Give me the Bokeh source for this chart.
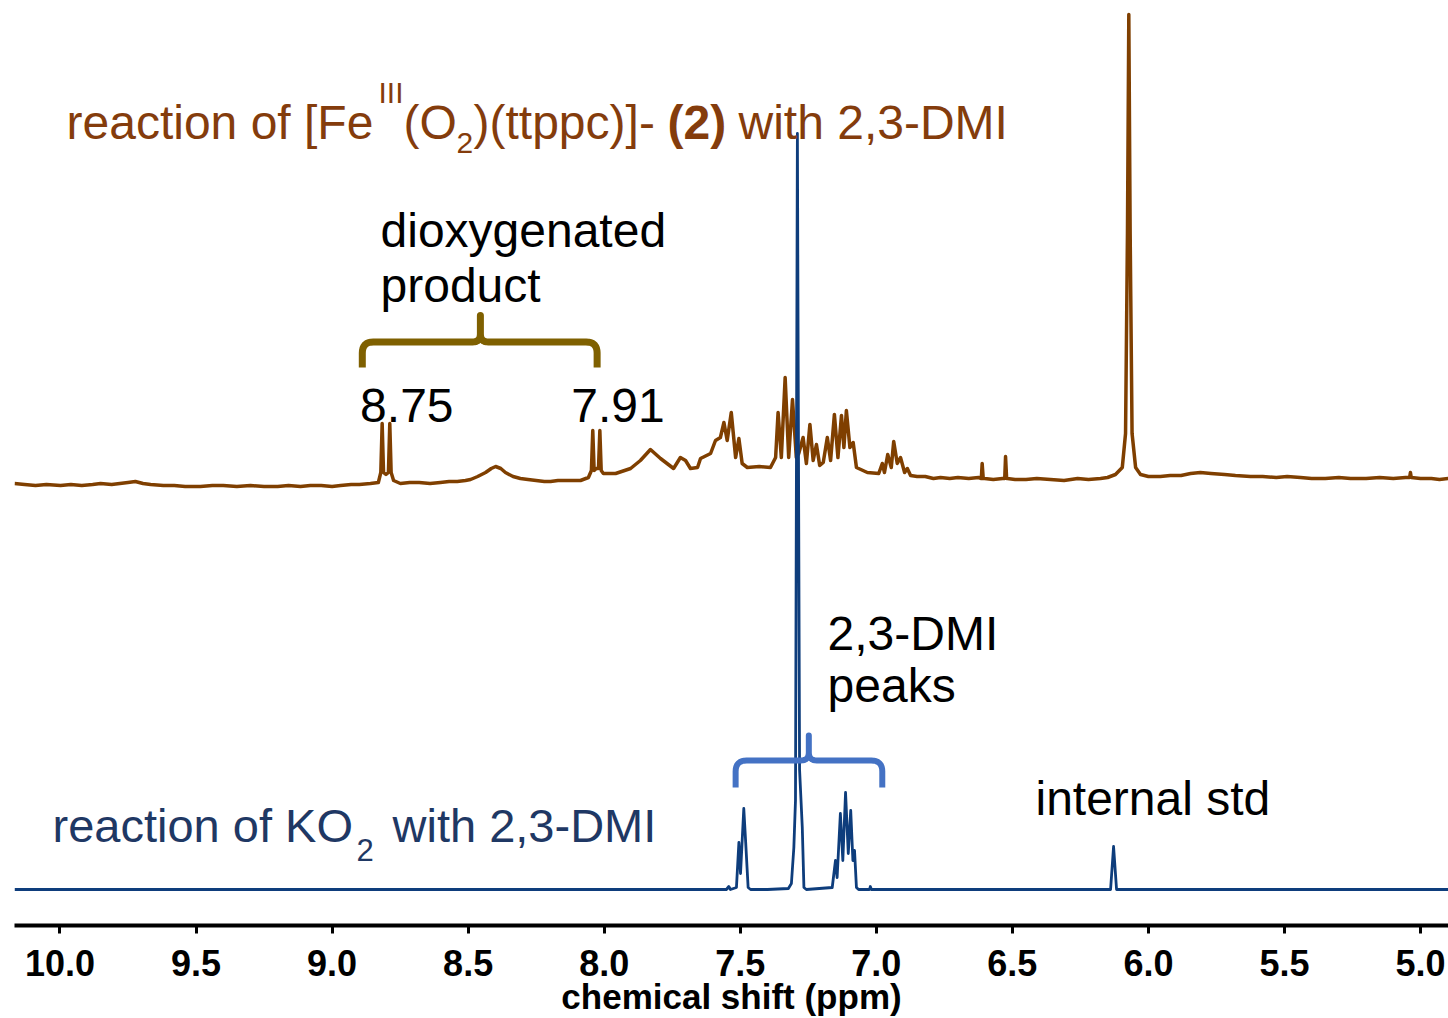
from bokeh.plotting import figure
from bokeh.models import Range1d, FixedTicker, PrintfTickFormatter, Label
from bokeh.embed import file_html
from bokeh.resources import INLINE

# ---------------- data ----------------
# Spectrum of the reaction of [Fe(III)(O2)(ttppc)]- (2) with 2,3-DMI (brown trace)
fe_ppm = [10.167, 10.130, 10.090, 10.050, 9.998, 9.960, 9.920, 9.880, 9.851, 9.810,
          9.780, 9.750, 9.723, 9.695, 9.667, 9.620, 9.580, 9.540, 9.484, 9.440,
          9.400, 9.350, 9.300, 9.250, 9.200, 9.160, 9.116, 9.080, 9.040, 9.000,
          8.969, 8.930, 8.900, 8.859, 8.830, 8.821, 8.816, 8.811, 8.802, 8.793,
          8.788, 8.783, 8.774, 8.749, 8.715, 8.680, 8.640, 8.602, 8.570, 8.540,
          8.510, 8.491, 8.465, 8.436, 8.415, 8.399, 8.380, 8.363, 8.335, 8.308,
          8.280, 8.250, 8.220, 8.197, 8.170, 8.140, 8.110, 8.087, 8.058, 8.047,
          8.042, 8.037, 8.029, 8.021, 8.016, 8.011, 8.003, 7.958, 7.903, 7.867,
          7.830, 7.793, 7.745, 7.720, 7.701, 7.683, 7.657, 7.646, 7.609, 7.591,
          7.573, 7.560, 7.548, 7.533, 7.517, 7.505, 7.493, 7.474, 7.430, 7.389,
          7.370, 7.361, 7.349, 7.335, 7.322, 7.308, 7.294, 7.285, 7.269, 7.257,
          7.244, 7.232, 7.220, 7.208, 7.195, 7.180, 7.168, 7.154, 7.141, 7.128,
          7.119, 7.110, 7.097, 7.085, 7.073, 7.033, 6.991, 6.978, 6.970, 6.958,
          6.945, 6.936, 6.923, 6.911, 6.896, 6.886, 6.874, 6.850, 6.820, 6.790,
          6.764, 6.730, 6.700, 6.660, 6.624, 6.614, 6.611, 6.607, 6.602, 6.570,
          6.536, 6.528, 6.525, 6.521, 6.518, 6.490, 6.450, 6.410, 6.360, 6.310,
          6.260, 6.220, 6.176, 6.150, 6.121, 6.096, 6.084, 6.077, 6.072, 6.067,
          6.060, 6.047, 6.029, 6.000, 5.956, 5.920, 5.880, 5.845, 5.809, 5.770,
          5.720, 5.680, 5.625, 5.580, 5.530, 5.490, 5.441, 5.400, 5.350, 5.300,
          5.257, 5.200, 5.150, 5.100, 5.055, 5.040, 5.037, 5.034, 5.000, 4.960,
          4.930, 4.897]
fe_int = [1, 0, -1, 0, -1, 0, -1, 0, 1, 0,
          1, 2, 3, 1, 0, -1, -1, -2, -2, -1,
          -1, -2, -1, -2, -2, -1, -2, -1, -1, -2,
          -1, 0, 0, 1, 2, 12, 61, 12, 10, 12,
          61, 12, 4, 1, 2, 2, 1, 2, 3, 3,
          4, 5, 8, 12, 16, 18, 16, 12, 8, 6,
          5, 4, 3, 3, 4, 4, 4, 4, 7, 14,
          54, 14, 16, 16, 54, 14, 11, 11, 16, 24,
          35, 26, 16, 27, 24, 16, 17, 26, 31, 44,
          47, 62, 44, 72, 27, 46, 21, 17, 18, 17,
          27, 72, 27, 107, 27, 85, 27, 31, 47, 21,
          60, 24, 40, 19, 22, 47, 24, 70, 27, 69,
          37, 74, 37, 42, 17, 12, 11, 21, 12, 30,
          17, 43, 21, 27, 12, 16, 9, 8, 8, 6,
          7, 6, 7, 6, 7, 6, 21, 6, 6, 5,
          6, 6, 28, 6, 6, 5, 5, 6, 5, 4,
          6, 5, 6, 7, 10, 17, 51, 250, 470, 250,
          51, 17, 10, 8, 8, 9, 9, 11, 12, 11,
          10, 9, 8, 8, 7, 8, 7, 6, 6, 7,
          6, 6, 7, 6, 7, 7, 12, 7, 6, 6,
          5, 6]

# Spectrum of the reaction of KO2 with 2,3-DMI (blue trace)
ko2_ppm = [10.167, 9.500, 8.500, 7.600, 7.551, 7.542, 7.536, 7.514, 7.505, 7.499,
           7.487, 7.480, 7.471, 7.462, 7.400, 7.323, 7.312, 7.303, 7.297, 7.290,
           7.282, 7.272, 7.266, 7.257, 7.162, 7.150, 7.144, 7.132, 7.123, 7.113,
           7.103, 7.094, 7.086, 7.080, 7.073, 7.065, 7.025, 7.022, 7.018, 6.500,
           6.139, 6.128, 6.117, 5.500, 4.897]
ko2_int = [0, 0, 0, 0, 0, 3, 0, 2, 47, 16,
           81, 47, 2, 0, 0, 1, 6, 42, 89, 756,
           120, 62, 2, 0, 2, 29, 12, 76, 29, 97,
           36, 79, 29, 39, 2, 0, 0, 3, 0, 0,
           0, 43, 0, 0, 0]

tick_ppm = [10.0, 9.5, 9.0, 8.5, 8.0, 7.5, 7.0, 6.5, 6.0, 5.5, 5.0]

# ---------------- layout constants ----------------
X_START, X_END = 10.1672, 4.8971
FRAME_W = 1434
PX_PER_PPM = FRAME_W / (X_START - X_END)
FE_OFFSET = 441     # vertical offset of the brown trace
KO2_OFFSET = 36     # vertical offset of the blue trace

BROWN_LINE = "#7F3F00"
BROWN_TEXT = "#843C0C"
BLUE_LINE = "#0E3D7C"
BLUE_TEXT = "#1F3864"
OLIVE = "#7F6000"
BRACE_BLUE = "#4472C4"
FONT = "Liberation Sans"

p = figure(width=1448, height=1018,
           x_range=Range1d(X_START, X_END), y_range=Range1d(0, 925),
           output_backend="svg", toolbar_location=None, y_axis_location=None,
           min_border_left=14, min_border_right=0, min_border_top=0,
           min_border_bottom=93, outline_line_color=None,
           background_fill_color="white", border_fill_color="white")
p.grid.visible = False

ax = p.xaxis[0]
ax.ticker = FixedTicker(ticks=tick_ppm, minor_ticks=[])
ax.formatter = PrintfTickFormatter(format="%.1f")
ax.axis_line_width = 4
ax.axis_line_color = "black"
ax.major_tick_line_width = 3
ax.major_tick_line_color = "black"
ax.major_tick_out = 8
ax.major_tick_in = 0
ax.minor_tick_line_color = None
ax.major_label_text_font = FONT
ax.major_label_text_font_style = "bold"
ax.major_label_text_font_size = "36px"
ax.major_label_text_color = "black"
ax.major_label_standoff = 16
ax.axis_label = "chemical shift (ppm)"
ax.axis_label_text_font = FONT
ax.axis_label_text_font_style = "bold"
ax.axis_label_text_font_size = "35px"
ax.axis_label_text_color = "black"
ax.axis_label_standoff = -2

# ---------------- spectra ----------------
fe_y = [v + FE_OFFSET for v in fe_int]
ko2_y = [v + KO2_OFFSET for v in ko2_int]
p.line(fe_ppm, fe_y, line_color=BROWN_LINE, line_width=3.5, line_join="round")
p.line(ko2_ppm, ko2_y, line_color=BLUE_LINE, line_width=2.8, line_join="round")


# ---------------- braces ----------------
def quad(p0, c, p1, n=8):
    pts = []
    for i in range(n + 1):
        t = i / n
        x = (1 - t) ** 2 * p0[0] + 2 * (1 - t) * t * c[0] + t ** 2 * p1[0]
        y = (1 - t) ** 2 * p0[1] + 2 * (1 - t) * t * c[1] + t ** 2 * p1[1]
        pts.append((x, y))
    return pts


def brace(xl, xr, xt, yb, yh, yt, r=11, rt=8):
    dx, dxt = r / PX_PER_PPM, rt / PX_PER_PPM
    pts = [(xl, yb)]
    pts += quad((xl, yh - r), (xl, yh), (xl - dx, yh))
    pts += quad((xt + dxt, yh), (xt, yh), (xt, yh + rt))
    pts += [(xt, yt)]
    pts += quad((xt, yh + rt), (xt, yh), (xt - dxt, yh))
    pts += quad((xr + dx, yh), (xr, yh), (xr, yh - r))
    pts += [(xr, yb)]
    return [q[0] for q in pts], [q[1] for q in pts]


bx, by = brace(8.889, 8.026, 8.455, 558, 583.5, 610)
p.line(bx, by, line_color=OLIVE, line_width=7, line_join="round")
bx2, by2 = brace(7.517, 6.978, 7.248, 138, 165, 190)
p.line(bx2, by2, line_color=BRACE_BLUE, line_width=6, line_join="round")


# ---------------- texts ----------------
def label(text, x, y, color="black", size=48, style="normal", xo=0, yo=0):
    # baseline correction for the browser's rendering of the alphabetic baseline
    fix = round(0.36 * size)
    p.add_layout(Label(x=x, y=y, x_offset=xo, y_offset=yo + fix, text=text,
                       text_font=FONT, text_font_size=f"{size}px",
                       text_font_style=style, text_color=color,
                       text_baseline="alphabetic", text_align="left"))


# title of brown trace
TX, TY = 9.976, 786
label("reaction of [Fe", TX, TY, BROWN_TEXT)
label("III", TX, TY, BROWN_TEXT, size=30, xo=312, yo=36)
label("(O", TX, TY, BROWN_TEXT, xo=337)
label("2", TX, TY, BROWN_TEXT, size=30, xo=390, yo=-14)
label(")(ttppc)]-", TX, TY, BROWN_TEXT, xo=407)
label("(2)", TX, TY, BROWN_TEXT, style="bold", xo=601)
label("with 2,3-DMI", TX, TY, BROWN_TEXT, xo=672)

# title of blue trace
BX, BY = 10.0275, 83
label("reaction of KO", BX, BY, BLUE_TEXT, size=47)
label("2", BX, BY, BLUE_TEXT, size=31, xo=304, yo=-18)
label("with 2,3-DMI", BX, BY, BLUE_TEXT, size=47, xo=340)

# annotations
label("dioxygenated", 8.822, 678)
label("product", 8.822, 623)
label("8.75", 8.897, 503)
label("7.91", 8.121, 503)
label("2,3-DMI", 7.179, 275)
label("peaks", 7.179, 223)
label("internal std", 6.415, 110)

open("out.html", "w").write(file_html(p, INLINE))
